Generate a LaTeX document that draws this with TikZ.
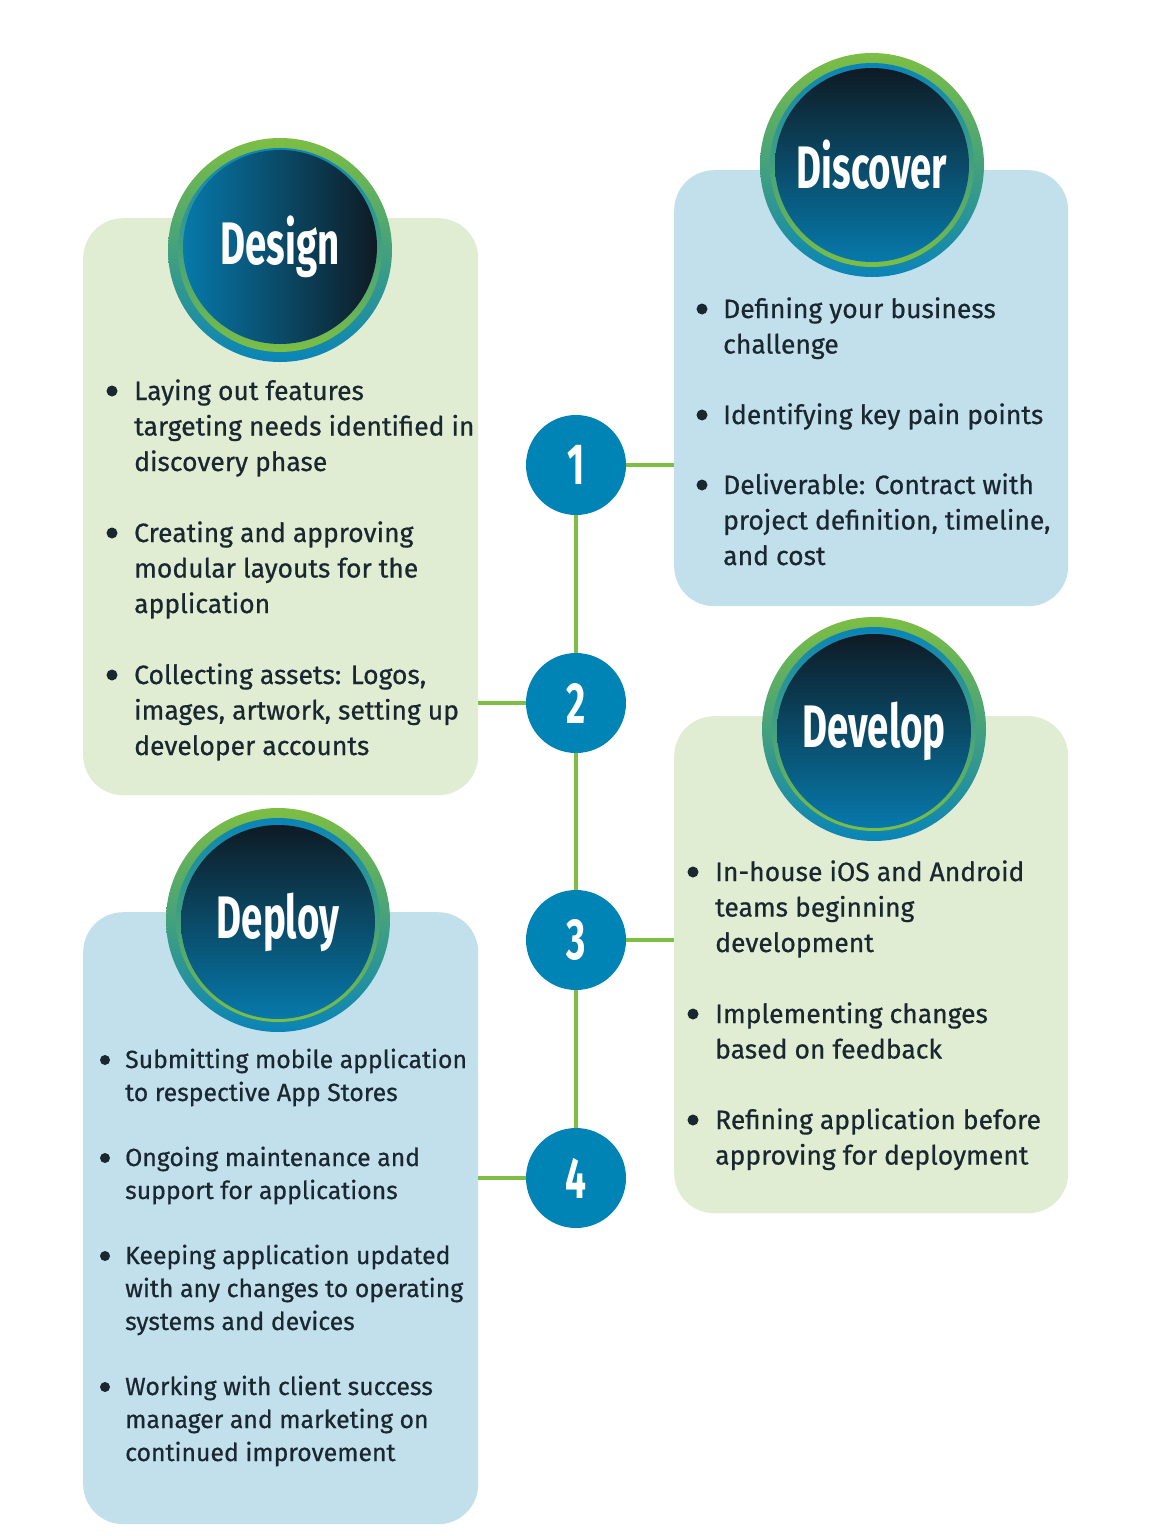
\documentclass[tikz,border=0pt]{standalone}
\usepackage{fontspec}
\setmainfont{Fira Sans}[FakeBold=0.6]
\newfontfamily\headfont{Fira Sans}[FakeStretch=0.64]
\definecolor{leafbg}{HTML}{E0EDD2}
\definecolor{skybg}{HTML}{C1E0EC}
\definecolor{teal}{HTML}{0083B5}
\definecolor{lime}{HTML}{7DBE43}
\definecolor{ink}{HTML}{1A2730}
\definecolor{night}{HTML}{0E1B24}
\definecolor{deep}{HTML}{0779AB}
\definecolor{ringblue}{HTML}{0A84B8}
\tikzset{
  panel/.style={rounded corners=40pt, anchor=north west, inner sep=0pt},
  item/.style={anchor=base west, align=left, inner sep=0pt, text=ink,
    font=\fontsize{26.5}{35.5}\selectfont},
  smallitem/.style={item, font=\fontsize{24.8}{33}\selectfont},
  head/.style={circle, minimum size=194pt, inner sep=0pt, text=white,
    font=\headfont\bfseries\fontsize{60}{60}\selectfont},
  ringout/.style={top color=lime, bottom color=ringblue},
  ringin/.style={top color=ringblue, bottom color=lime},
  step num/.style={circle, fill=teal, minimum size=100pt, inner sep=0pt, text=white,
    font=\headfont\bfseries\fontsize{58}{58}\selectfont},
  link/.style={draw=lime, line width=3.5pt},
}
\begin{document}
\begin{tikzpicture}[x=1pt,y=1pt]
  \useasboundingbox[fill=white] (0,0) rectangle (1152,-1536);

  % panels
  \node[panel, fill=leafbg, minimum width=395pt, minimum height=577pt] (designbox) at (83,-218) {};
  \node[panel, fill=skybg, minimum width=394pt, minimum height=436pt] (discoverbox) at (674,-170) {};
  \node[panel, fill=leafbg, minimum width=394pt, minimum height=497pt] (developbox) at (674,-716) {};
  \node[panel, fill=skybg, minimum width=395pt, minimum height=612pt] (deploybox) at (83,-912) {};

  % heading discs
  \shade[ringout] (280,-250) circle (112);
  \shade[ringin] (280,-250) circle (102);
  \node[head, left color=deep, right color=night] (design) at (280,-247) {Design};

  \shade[ringout] (872,-165) circle (112);
  \shade[ringin] (872,-165) circle (102);
  \node[head, top color=night, bottom color=deep] (discover) at (872,-165) {Discover};

  \shade[ringout] (874,-729) circle (112);
  \shade[ringin] (874,-729) circle (102);
  \node[head, top color=night, bottom color=deep] (develop) at (874,-731) {Develop};

  \shade[ringout] (278,-920) circle (112);
  \shade[ringin] (278,-920) circle (102);
  \node[head, top color=night, bottom color=deep] (deploy) at (278,-922) {Deploy};

  % steps
  \node[step num] (n1) at (576,-465) {1};
  \node[step num] (n2) at (576,-703) {2};
  \node[step num] (n3) at (576,-940) {3};
  \node[step num] (n4) at (576,-1178) {4};
  \draw[link] (n1) -- (n2);
  \draw[link] (n2) -- (n3);
  \draw[link] (n3) -- (n4);
  \draw[link] (n1.east) -- (n1.east -| discoverbox.west);
  \draw[link] (n2.west) -- (n2.west -| designbox.east);
  \draw[link] (n3.east) -- (n3.east -| developbox.west);
  \draw[link] (n4.west) -- (n4.west -| deploybox.east);

  % design (anchored on last line)
  \node[item] (dz1) at (134,-471) {Laying out features\\targeting needs identified in\\discovery phase};
  \node[item] (dz2) at (134,-613) {Creating and approving\\modular layouts for the\\application};
  \node[item] (dz3) at (134,-755) {Collecting assets: Logos,\\images, artwork, setting up\\developer accounts};

  % discover
  \node[item] (dc1) at (723,-353.5) {Defining your business\\challenge};
  \node[item] (dc2) at (723,-424) {Identifying key pain points};
  \node[item] (dc3) at (723,-565) {Deliverable: Contract with\\project definition, timeline,\\and cost};

  % develop
  \node[item] (dv1) at (715,-952) {In-house iOS and Android\\teams beginning\\development};
  \node[item] (dv2) at (715,-1058.5) {Implementing changes\\based on feedback};
  \node[item] (dv3) at (715,-1164.5) {Refining application before\\approving for deployment};

  % deploy
  \node[smallitem] (dp1) at (125,-1101) {Submitting mobile application\\to respective App Stores};
  \node[smallitem] (dp2) at (125,-1199) {Ongoing maintenance and\\support for applications};
  \node[smallitem] (dp3) at (125,-1330) {Keeping application updated\\with any changes to operating\\systems and devices};
  \node[smallitem] (dp4) at (125,-1461) {Working with client success\\manager and marketing on\\continued improvement};

  % bullets
  \foreach \bx/\by in {112/391,112/533,112/675,702/309,702/415,702/485,693/872,693/1014,693/1120}
    \fill[ink] (\bx,-\by) circle (5.5);
  \foreach \by in {1060,1158,1256,1387}
    \fill[ink] (105,-\by) circle (5);
\end{tikzpicture}
\end{document}
